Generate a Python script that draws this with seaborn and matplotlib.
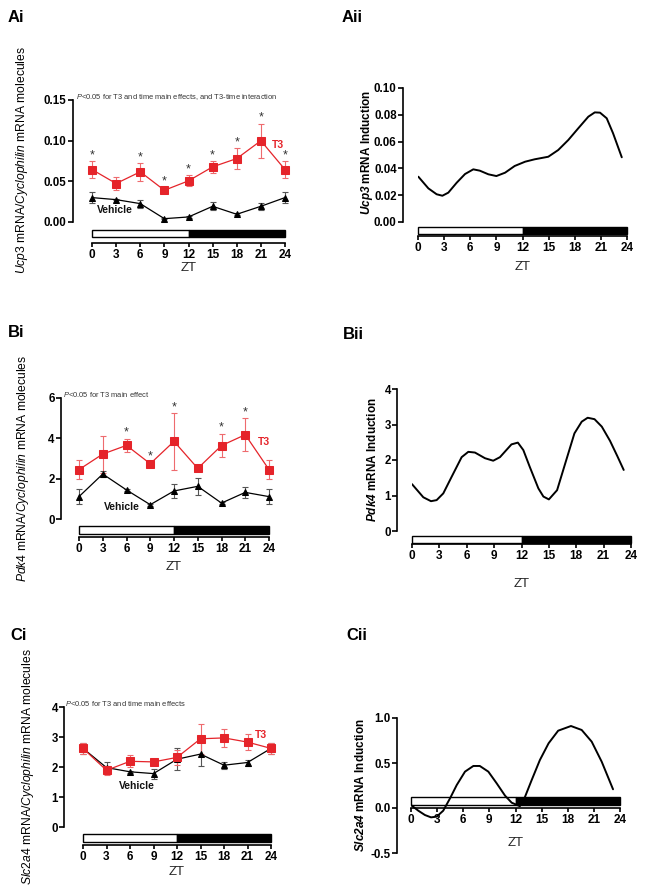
import matplotlib
matplotlib.use("Agg")
import matplotlib.pyplot as plt
import seaborn as sns
from matplotlib.patches import Rectangle
from matplotlib.ticker import FormatStrFormatter
from matplotlib.transforms import blended_transform_factory

sns.set_theme(style="ticks")
plt.rcParams["font.family"] = ["Liberation Sans", "DejaVu Sans"]
plt.rcParams["mathtext.fontset"] = "custom"
plt.rcParams["mathtext.rm"] = "Liberation Sans"
plt.rcParams["mathtext.it"] = "Liberation Sans:italic"
plt.rcParams["mathtext.bf"] = "Liberation Sans:bold"
plt.rcParams["mathtext.bfit"] = "Liberation Sans:italic:bold"
plt.rcParams["text.color"] = "black"
plt.rcParams["axes.edgecolor"] = "black"
plt.rcParams["xtick.color"] = "black"
plt.rcParams["ytick.color"] = "black"

# Data:
zt = [0, 3, 6, 9, 12, 15, 18, 21, 24]
light_phase = (0, 12)
dark_phase = (12, 24)

# Ucp3
ucp3_t3 = [0.0645, 0.0473, 0.0617, 0.039, 0.0506, 0.0678, 0.078, 0.0999, 0.0645]
ucp3_t3_sem = [0.010, 0.0078, 0.0107, 0.0037, 0.0068, 0.007, 0.013, 0.021, 0.010]
ucp3_veh = [0.030, 0.0275, 0.0226, 0.0041, 0.0062, 0.0193, 0.0095, 0.0193, 0.030]
ucp3_veh_sem = [0.007, 0.001, 0.005, 0.001, 0.001, 0.0047, 0.001, 0.004, 0.007]
ucp3_stars = [0, 6, 9, 12, 15, 18, 21, 24]
ucp3_ind_zt = [0.04, 1.19, 2.14, 2.8, 3.48, 4.44, 5.4, 6.35, 7.1, 8.08, 9.0, 10.0, 11.1,
               12.3, 13.4, 14.96, 16.1, 17.26, 18.4, 19.56, 20.3, 20.9, 21.67, 22.4, 23.4]
ucp3_ind = [0.0338, 0.0251, 0.0207, 0.0196, 0.0219, 0.0293, 0.0358, 0.0393, 0.0383, 0.0356,
            0.0343, 0.0368, 0.0418, 0.045, 0.0468, 0.0487, 0.0537, 0.0612, 0.0699, 0.0786,
            0.0818, 0.0816, 0.0774, 0.0662, 0.0483]

# Pdk4
pdk4_t3 = [2.45, 3.22, 3.65, 2.74, 3.85, 2.51, 3.64, 4.18, 2.45]
pdk4_t3_sem = [0.47, 0.92, 0.33, 0.08, 1.40, 0.10, 0.58, 0.82, 0.47]
pdk4_veh = [1.11, 2.23, 1.44, 0.71, 1.39, 1.62, 0.79, 1.32, 1.11]
pdk4_veh_sem = [0.37, 0.13, 0.05, 0.05, 0.36, 0.43, 0.05, 0.26, 0.37]
pdk4_stars = [6, 9, 12, 18, 21]
pdk4_ind_zt = [0.0, 1.24, 2.08, 2.7, 3.43, 4.35, 5.44, 6.17, 6.9, 8.0, 8.9, 9.64, 10.9, 11.6,
               12.2, 12.9, 13.85, 14.4, 15.0, 15.9, 16.8, 17.8, 18.6, 19.25, 20.0, 20.8,
               21.7, 22.5, 23.2]
pdk4_ind = [1.32, 0.95, 0.84, 0.87, 1.06, 1.53, 2.08, 2.23, 2.21, 2.05, 1.98, 2.08, 2.44,
            2.49, 2.28, 1.81, 1.20, 0.97, 0.89, 1.15, 1.91, 2.75, 3.08, 3.19, 3.15, 2.94,
            2.54, 2.11, 1.72]

# Slc2a4
slc_t3 = [2.62, 1.89, 2.19, 2.17, 2.32, 2.94, 2.97, 2.83, 2.62]
slc_t3_sem = [0.17, 0.14, 0.20, 0.05, 0.26, 0.51, 0.30, 0.26, 0.17]
slc_veh = [2.62, 1.98, 1.84, 1.78, 2.26, 2.43, 2.06, 2.15, 2.62]
slc_veh_sem = [0.18, 0.19, 0.04, 0.17, 0.37, 0.41, 0.11, 0.10, 0.18]
slc_stars = []
slc_ind_zt = [0.0, 0.84, 1.6, 2.3, 2.95, 3.7, 4.48, 5.25, 6.2, 7.16, 7.9, 8.88, 9.84, 10.8,
              11.56, 12.0, 12.5, 13.1, 13.86, 14.8, 15.8, 16.9, 18.37, 19.6, 20.75, 21.9, 23.2]
slc_ind = [0.033, -0.03, -0.078, -0.104, -0.096, -0.03, 0.107, 0.255, 0.404, 0.467, 0.467,
           0.404, 0.274, 0.137, 0.059, 0.041, 0.02, 0.126, 0.311, 0.533, 0.719, 0.859, 0.911,
           0.867, 0.737, 0.514, 0.208]

RED = "#e5242a"
RED_ERR = "#ee6b6e"
W, H = 645, 889

fig = plt.figure(figsize=(W / 100, H / 100), dpi=100)


def px_axes(l, r, t, b):
    return fig.add_axes([l / W, 1 - b / H, (r - l) / W, (b - t) / H])


def base_panel(l, r, t, b, ylim, yticks, yfmt, yspine, bar, zt_y, ylabel, ylab_xy, label,
               label_xy, bold_ylabel=False, xaxis_at_zero=False):
    ax = px_axes(l, r, t, b)
    sns.despine(ax=ax)
    ax.set_xlim(0, 24)
    ax.set_ylim(*ylim)
    ax.spines["left"].set_position(("outward", (l - yspine) * 0.72))
    ax.spines["left"].set_bounds(yticks[0], yticks[-1])
    if xaxis_at_zero:
        ax.spines["bottom"].set_position(("data", 0))
    for s in ("left", "bottom"):
        ax.spines[s].set_linewidth(1.2)
    ax.set_xticks(zt)
    ax.set_yticks(yticks)
    ax.yaxis.set_major_formatter(FormatStrFormatter(yfmt))
    ax.tick_params(axis="x", length=3, width=1.2, pad=1.5, labelsize=8.5)
    ax.tick_params(axis="y", length=3.5, width=1.2, pad=1, labelsize=8.3)
    plt.setp(ax.get_xticklabels() + ax.get_yticklabels(), fontweight="bold")

    # light / dark bar
    trans = blended_transform_factory(ax.transData, ax.transAxes)
    y0 = (b - bar[1]) / (b - t)
    hgt = (bar[1] - bar[0]) / (b - t)
    ax.add_patch(Rectangle((light_phase[0], y0), light_phase[1] - light_phase[0], hgt,
                           transform=trans, facecolor="white", edgecolor="black",
                           linewidth=1, clip_on=False, zorder=1))
    ax.add_patch(Rectangle((dark_phase[0], y0), dark_phase[1] - dark_phase[0], hgt,
                           transform=trans, facecolor="black", edgecolor="black",
                           linewidth=1, clip_on=False, zorder=1))

    ax.set_xlabel("ZT", fontsize=9.5)
    ax.xaxis.set_label_coords(0.5, -(zt_y - b) / (b - t))
    ax.xaxis.label.set_va("center")
    fig.text(ylab_xy[0] / W, 1 - ylab_xy[1] / H, ylabel, rotation=90, ha="center",
             va="center", fontsize=8.5 if bold_ylabel else 8.7,
             fontweight="bold" if bold_ylabel else "normal")
    fig.text(label_xy[0] / W, 1 - label_xy[1] / H, label, ha="left", va="top",
             fontsize=12, fontweight="bold")
    return ax


def time_course(ax, t3, t3_sem, veh, veh_sem, stars, note, note_xy, veh_xy, t3_xy):
    for mean, sem, col, ecol, mk, ms in ((veh, veh_sem, "black", "#555555", "^", 5),
                                         (t3, t3_sem, RED, RED_ERR, "s", 5.5)):
        eb = ax.errorbar(zt, mean, yerr=sem, fmt="none", ecolor=ecol, elinewidth=0.8,
                         capsize=2.5, capthick=0.8, zorder=2)
        for art in list(eb.lines[1]) + list(eb.lines[2]):
            art.set_clip_on(False)
        sns.lineplot(x=zt, y=mean, ax=ax, color=col, linewidth=0.9, marker=mk,
                     markersize=ms, markeredgecolor=col, clip_on=False, zorder=3)
    for x in stars:
        i = zt.index(x)
        ax.annotate("*", (x, t3[i] + t3_sem[i]), xytext=(0, 0), textcoords="offset points",
                    ha="center", va="bottom", fontsize=9, color="#333333",
                    annotation_clip=False)
    ax.text(veh_xy[0], veh_xy[1], "Vehicle", ha="center", va="center", fontsize=7.5,
            fontweight="bold", color="#111111")
    ax.text(t3_xy[0], t3_xy[1], "T3", ha="center", va="center", fontsize=7.5,
            fontweight="bold", color=RED)
    fig.text(note_xy[0] / W, 1 - note_xy[1] / H, note, ha="left", va="center",
             fontsize=5.4, color="#333333")


def induction(ax, x, y):
    sns.lineplot(x=x, y=y, ax=ax, color="black", linewidth=1.4, sort=False, zorder=3)


# ---- A ----
ax = base_panel(92, 285, 100, 243, (-0.15 * 21 / 122, 0.15), [0, 0.05, 0.10, 0.15], "%.2f",
                73, (230, 237), 268,
                r"$\mathit{Ucp3}$ mRNA/$\mathit{Cyclophilin}$ mRNA molecules", (22, 160),
                "Ai", (8, 10))
time_course(ax, ucp3_t3, ucp3_t3_sem, ucp3_veh, ucp3_veh_sem, ucp3_stars,
            r"$\mathit{P}$<0.05 for T3 and time main effects, and T3-time interaction",
            (76, 97), (2.8, 0.0145), (23.1, 0.0945))

ax = base_panel(418, 627, 88, 236, (-0.10 * 14 / 134, 0.10),
                [0, 0.02, 0.04, 0.06, 0.08, 0.10], "%.2f", 403, (227, 234), 267,
                r"$\mathbfit{Ucp3}$ mRNA Induction", (367, 152), "Aii", (342, 10),
                bold_ylabel=True)
induction(ax, ucp3_ind_zt, ucp3_ind)

# ---- B ----
ax = base_panel(79, 269, 398, 537, (-6 * 18 / 121, 6), [0, 2, 4, 6], "%d", 61, (526, 534),
                567, r"$\mathit{Pdk4}$ mRNA/$\mathit{Cyclophilin}$ mRNA molecules", (23, 468),
                "Bi", (8, 325))
time_course(ax, pdk4_t3, pdk4_t3_sem, pdk4_veh, pdk4_veh_sem, pdk4_stars,
            r"$\mathit{P}$<0.05 for T3 main effect", (63, 394), (5.4, 0.6), (23.4, 3.8))

ax = base_panel(412, 631, 389, 544, (-4 * 13 / 142, 4), [0, 1, 2, 3, 4], "%d", 397,
                (536, 543), 584, r"$\mathbfit{Pdk4}$ mRNA Induction", (373, 460), "Bii",
                (343, 327), bold_ylabel=True)
induction(ax, pdk4_ind_zt, pdk4_ind)

# ---- C ----
ax = base_panel(83, 271, 707, 845, (-4 * 18 / 120, 4), [0, 1, 2, 3, 4], "%d", 64, (834, 842),
                872, r"$\mathit{Slc2a4}$ mRNA/$\mathit{Cyclophilin}$ mRNA molecules",
                (28, 767), "Ci", (10, 628))
time_course(ax, slc_t3, slc_t3_sem, slc_veh, slc_veh_sem, slc_stars,
            r"$\mathit{P}$<0.05 for T3 and time main effects", (65, 703), (6.9, 1.37),
            (22.7, 3.06))

ax = base_panel(411, 620, 718, 853, (-0.5, 1.0), [-0.5, 0.0, 0.5, 1.0], "%.1f", 397,
                (797, 805), 843, r"$\mathbfit{Slc2a4}$ mRNA Induction", (360, 785), "Cii",
                (346, 628), bold_ylabel=True, xaxis_at_zero=True)
induction(ax, slc_ind_zt, slc_ind)

fig.savefig("out.png", dpi=100)
